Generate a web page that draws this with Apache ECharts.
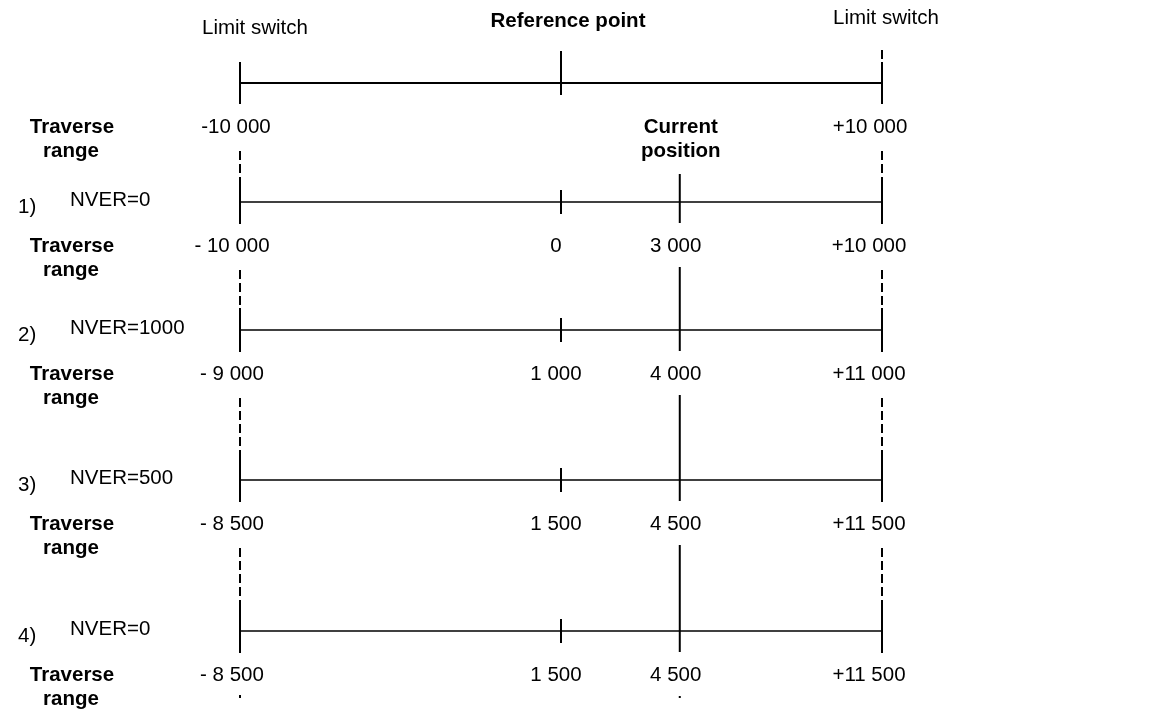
<!DOCTYPE html>
<html lang="en">

<head>
    <meta charset="UTF-8">
    <title>NVER traverse range</title>
    <script src="https://cdn.jsdelivr.net/npm/echarts@6.0.0/dist/echarts.min.js"></script>
    <style>
        html, body {
            margin: 0;
            background-color: #fff;
        }
        #main {
            width: 1158px;
            height: 711px;
        }
    </style>
</head>

<body>
    <div id="main"></div>
    <script type="text/javascript">
        // rows: 0 = header row, 1..4 = the numbered cases
        var rowNums = ['', '1)', '2)', '3)', '4)'];
        var rowNames = ['', 'NVER=0', 'NVER=1000', 'NVER=500', 'NVER=0'];
        var rangeMin = [-10000, -10000, -9000, -8500, -8500];
        var refValue = [null, 0, 1000, 1500, 1500];
        var currentValue = [null, 3000, 4000, 4500, 4500];
        var rangeMax = [10000, 10000, 11000, 11500, 11500];

        // where the marks sit on the drawing (not to scale): limit, reference, current, limit
        var markX = [-10000, 0, 3700, 10000];
        // vertical layout of the rows
        var rowY = [83, 202, 330, 480, 631];

        var FONT = '20.5px "Liberation Sans", Arial, sans-serif';
        var BOLD = 'bold 20.5px "Liberation Sans", Arial, sans-serif';

        function fmt(v) {
            return String(Math.abs(v)).replace(/\B(?=(\d{3})+(?!\d))/g, ' ');
        }

        function text(str, x, y, font, align) {
            return {
                type: 'text',
                style: {
                    text: str, x: x, y: y, font: font || FONT, fill: '#000',
                    align: align || 'center', verticalAlign: 'middle'
                }
            };
        }

        function seg(x1, y1, x2, y2, dashed, w) {
            return {
                type: 'line',
                shape: { x1: x1, y1: y1, x2: x2, y2: y2 },
                style: { stroke: '#000', lineWidth: w || 2, lineDash: dashed ? [9, 4] : null }
            };
        }

        function renderItem(params, api) {
            var r = api.value(2);
            var L = api.coord([0, rowY[r]])[1];
            var xs = markX.map(function (m) { return api.coord([m, rowY[r]])[0]; });
            var labelY = L + 44;
            var kids = [];

            // axis line
            kids.push(seg(xs[0], L, xs[3], L, false, r === 0 ? 2 : 1.7));

            if (r === 0) {
                kids.push(text('Limit switch', xs[0] + 15, L - 55));
                kids.push(text('Reference point', xs[1] + 7, L - 62, BOLD));
                kids.push(text('Limit switch', xs[3] + 4, L - 65));
                kids.push(seg(xs[0], L - 21, xs[0], L + 21));
                kids.push(seg(xs[1], L - 32, xs[1], L + 12));
                kids.push(seg(xs[3], L - 33, xs[3], L - 21, true));
                kids.push(seg(xs[3], L - 21, xs[3], L + 21));
                kids.push(text('-' + fmt(rangeMin[r]), xs[0] - 4, labelY));
                kids.push(text('+' + fmt(rangeMax[r]), xs[3] - 12, labelY));
                kids.push(text('Current', xs[2] + 1, labelY, BOLD));
                kids.push(text('position', xs[2] + 1, labelY + 24, BOLD));
            } else {
                var prevL = api.coord([0, rowY[r - 1]])[1];
                var prevLabel = prevL + 44;
                var curTop = r === 1 ? prevLabel + 24 + 23 : prevLabel + 21;

                kids.push(text(rowNums[r], 18, L + 5, FONT, 'left'));
                kids.push(text(rowNames[r], 70, L - 2, FONT, 'left'));

                // limit switches: dashed down from the labels, solid tick at the line
                [0, 3].forEach(function (k) {
                    kids.push(seg(xs[k], prevLabel + 24, xs[k], L - 22, true));
                    kids.push(seg(xs[k], L - 22, xs[k], L + 22));
                });
                kids.push(seg(xs[1], L - 12, xs[1], L + 12));
                kids.push(seg(xs[2], curTop, xs[2], L + 21));

                kids.push(text('- ' + fmt(rangeMin[r]), xs[0] - 8, labelY));
                kids.push(text(fmt(refValue[r]), xs[1] - 5, labelY));
                kids.push(text(fmt(currentValue[r]), xs[2] - 4, labelY));
                kids.push(text('+' + fmt(rangeMax[r]), xs[3] - 13, labelY));

                if (r === rowY.length - 1) {
                    kids.push(seg(xs[0], labelY + 20, xs[0], labelY + 23));
                    kids.push(seg(xs[2], labelY + 21, xs[2], labelY + 23));
                }
            }

            kids.push(text('Traverse', xs[0] - 168, labelY, BOLD));
            kids.push(text('range', xs[0] - 169, labelY + 24, BOLD));

            return { type: 'group', children: kids };
        }

        var myChart = echarts.init(document.getElementById('main'));

        var option = {
            animation: false,
            backgroundColor: '#fff',
            grid: { left: 240, right: 276, top: 0, bottom: 0 },
            xAxis: { type: 'value', min: -10000, max: 10000, show: false },
            yAxis: { type: 'value', min: 0, max: 711, inverse: true, show: false },
            series: [{
                type: 'custom',
                clip: false,
                renderItem: renderItem,
                encode: { x: 0, y: 1 },
                data: rowY.map(function (y, i) { return [0, y, i]; })
            }]
        };

        myChart.setOption(option);
    </script>
</body>

</html>
